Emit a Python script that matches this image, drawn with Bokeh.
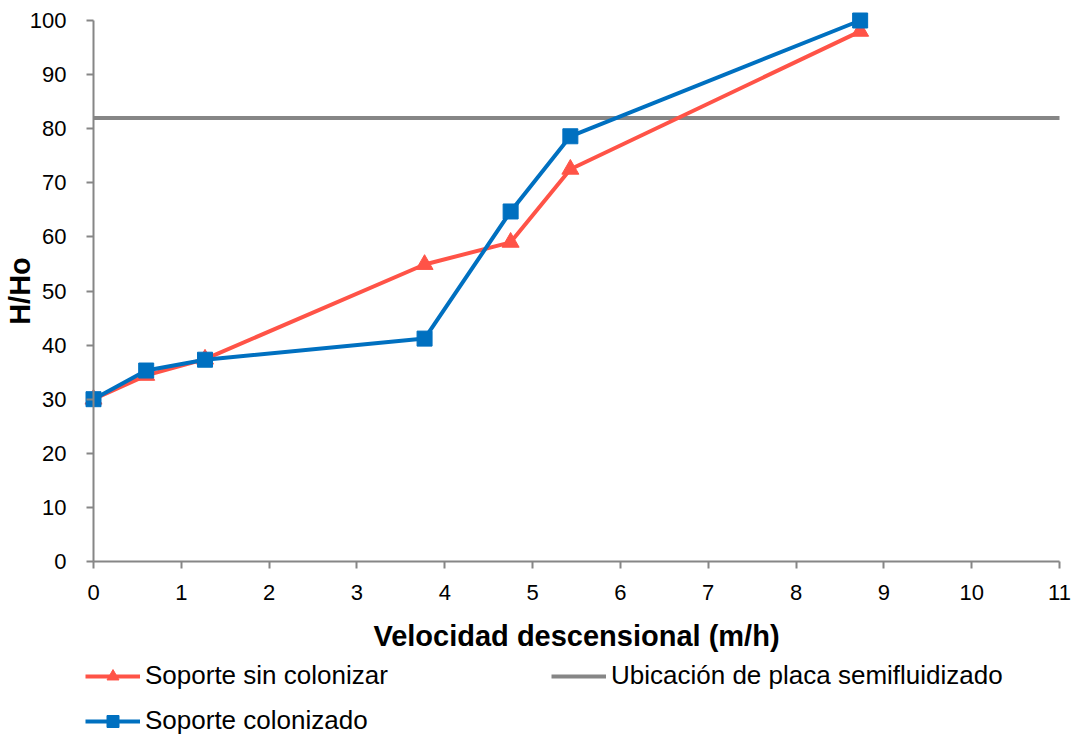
from bokeh.plotting import figure
from bokeh.models import Range1d, Legend, LegendItem, LinearAxis, FixedTicker
from bokeh.embed import file_html
from bokeh.resources import INLINE

# data
x_sin = [0.0, 0.6, 1.27, 3.77, 4.75, 5.43, 8.73]
y_sin = [30.0, 34.4, 37.4, 54.9, 59.0, 72.5, 98.0]
x_col = [0.0, 0.6, 1.27, 3.77, 4.75, 5.43, 8.73]
y_col = [30.0, 35.3, 37.3, 41.2, 64.7, 78.6, 100.0]
placa_x = [0.0, 11.0]
placa_y = [82.0, 82.0]
x_ticks = list(range(0, 12))
y_ticks = list(range(0, 101, 10))

RED = "#FF5347"
BLUE = "#0070C0"
GREY = "#868686"
FONT = "Liberation Sans"

W, H = 1076, 736
# data 0..11 -> px 93..1059, 0..100 -> px 561..20 (frame = whole canvas)
ppx = (1059 - 93) / 11.0
ppy = (561 - 20) / 100.0
xr = Range1d(-93 / ppx, 11 + (W - 1059) / ppx)
yr = Range1d(-(H - 561) / ppy, 100 + 20 / ppy)

p = figure(width=W, height=H, x_range=xr, y_range=yr,
           output_backend="svg", toolbar_location=None,
           x_axis_location=None, y_axis_location=None,
           min_border=0)
p.outline_line_color = None
p.xgrid.visible = False
p.ygrid.visible = False

xa = LinearAxis(fixed_location=0, bounds=(0, 11), ticker=FixedTicker(ticks=x_ticks),
                axis_label="Velocidad descensional (m/h)")
ya = LinearAxis(fixed_location=0, bounds=(0, 100), ticker=FixedTicker(ticks=y_ticks),
                axis_label="H/Ho")
for ax in (xa, ya):
    ax.axis_line_color = GREY
    ax.axis_line_width = 2
    ax.major_tick_line_color = GREY
    ax.major_tick_line_width = 2
    ax.major_tick_out = 7
    ax.major_tick_in = 0
    ax.minor_tick_line_color = None
    ax.major_label_text_font = FONT
    ax.major_label_text_font_size = "22px"
    ax.major_label_text_color = "black"
    ax.axis_label_text_font = FONT
    ax.axis_label_text_font_size = "29px"
    ax.axis_label_text_font_style = "bold"
    ax.axis_label_text_color = "black"
xa.major_label_standoff = 16
xa.axis_label_standoff = 17
ya.major_label_standoff = 20
ya.axis_label_standoff = -9
p.add_layout(xa, "below")
p.add_layout(ya, "left")

r_placa = p.line(placa_x, placa_y, line_color=GREY, line_width=4)
l_sin = p.line(x_sin, y_sin, line_color=RED, line_width=4)
m_sin = p.scatter(x_sin, y_sin, marker="triangle", size=17, fill_color=RED, line_color=RED)
l_col = p.line(x_col, y_col, line_color=BLUE, line_width=4)
m_col = p.scatter(x_col, y_col, marker="square", size=15, fill_color=BLUE, line_color=BLUE)

legend = Legend(items=[
    LegendItem(label="Soporte sin colonizar", renderers=[l_sin, m_sin]),
    LegendItem(label="Soporte colonizado", renderers=[l_col, m_col]),
    LegendItem(label="Ubicación de placa semifluidizado", renderers=[r_placa]),
], ncols=2, orientation="vertical")
legend.label_text_font = FONT
legend.label_text_font_size = "26px"
legend.label_text_color = "black"
legend.glyph_width = 55
legend.glyph_height = 30
legend.label_height = 30
legend.label_standoff = 5
legend.label_width = 392
legend.spacing = 14
legend.border_line_color = None
legend.background_fill_alpha = 0
legend.padding = 0
legend.margin = 0
legend.location = (85, 0)
p.add_layout(legend, "center")

open("out.html", "w").write(file_html(p, INLINE))
